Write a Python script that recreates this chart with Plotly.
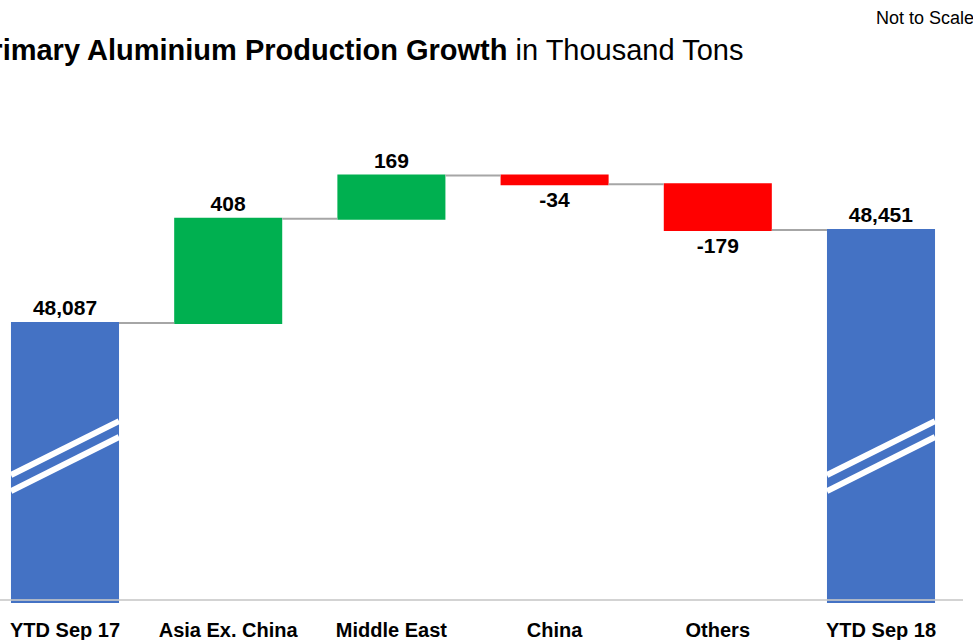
import plotly.graph_objects as go

# ---- data ----
categories = ["YTD Sep 17", "Asia Ex. China", "Middle East", "China", "Others", "YTD Sep 18"]
measures = ["absolute", "relative", "relative", "relative", "relative", "total"]
values = [48087, 408, 169, -34, -179, 48451]

# not-to-scale axis window (thousand tons)
y_range = [46991, 48960]
axis_level = 47003
# broken-bar marker levels (left edge, right edge) for the two stripes
break_upper = (47492, 47703)
break_lower = (47429, 47641)

labels = [f"{v:,}" for v in values]

FONT = "Arial, Liberation Sans, sans-serif"
W, H = 973, 640
L, R, T, B = 0, 10, 100, 37
BAR_W = 0.662

fig = go.Figure(go.Waterfall(
    x=list(range(len(categories))),
    y=values,
    measure=measures,
    text=labels,
    textinfo="text",
    textposition="outside",
    textfont=dict(family=FONT, size=21, color="#000000", weight="bold"),
    width=BAR_W,
    increasing=dict(marker=dict(color="#00B050", line=dict(width=0))),
    decreasing=dict(marker=dict(color="#FF0000", line=dict(width=0))),
    totals=dict(marker=dict(color="#4472C4", line=dict(width=0))),
    connector=dict(line=dict(color="#A6A6A6", width=2), mode="between"),
    cliponaxis=False,
))

# break stripes on the two total bars
shapes = []
for i in (0, len(categories) - 1):
    for lv in (break_upper, break_lower):
        shapes.append(dict(type="line", xref="x", yref="y",
                           x0=i - BAR_W / 2, x1=i + BAR_W / 2, y0=lv[0], y1=lv[1],
                           line=dict(color="white", width=6), layer="above"))
# baseline
shapes.append(dict(type="line", xref="paper", yref="y", x0=0, x1=1,
                   y0=axis_level, y1=axis_level,
                   line=dict(color="rgba(200,200,200,0.8)", width=2), layer="above"))

plot_h = H - T - B
plot_w = W - L - R
px_per_cat = 163.2
r0 = -65 / px_per_cat
r1 = r0 + plot_w / px_per_cat

fig.update_layout(
    width=W, height=H,
    margin=dict(l=L, r=R, t=T, b=B, pad=0),
    paper_bgcolor="white", plot_bgcolor="white",
    showlegend=False,
    shapes=shapes,
    xaxis=dict(range=[r0, r1], tickmode="array",
               tickvals=list(range(len(categories))), ticktext=categories,
               tickfont=dict(family=FONT, size=20, color="#000000", weight="bold"),
               ticklabelstandoff=13,
               showgrid=False, zeroline=False, showline=False, ticks=""),
    yaxis=dict(range=y_range, visible=False, showgrid=False, zeroline=False),
    annotations=[
        dict(xref="paper", yref="paper", x=-30 / plot_w, y=(H - B - 50) / plot_h,
             xanchor="left", yanchor="middle", showarrow=False,
             text="<b>Primary Aluminium Production Growth</b> in Thousand Tons",
             font=dict(family=FONT, size=29, color="#000000")),
        dict(xref="paper", yref="paper", x=(976 - L) / plot_w, y=(H - B - 18) / plot_h,
             xanchor="right", yanchor="middle", showarrow=False,
             text="Not to Scale",
             font=dict(family=FONT, size=18, color="#000000")),
    ],
)

fig.write_html("out.html")
